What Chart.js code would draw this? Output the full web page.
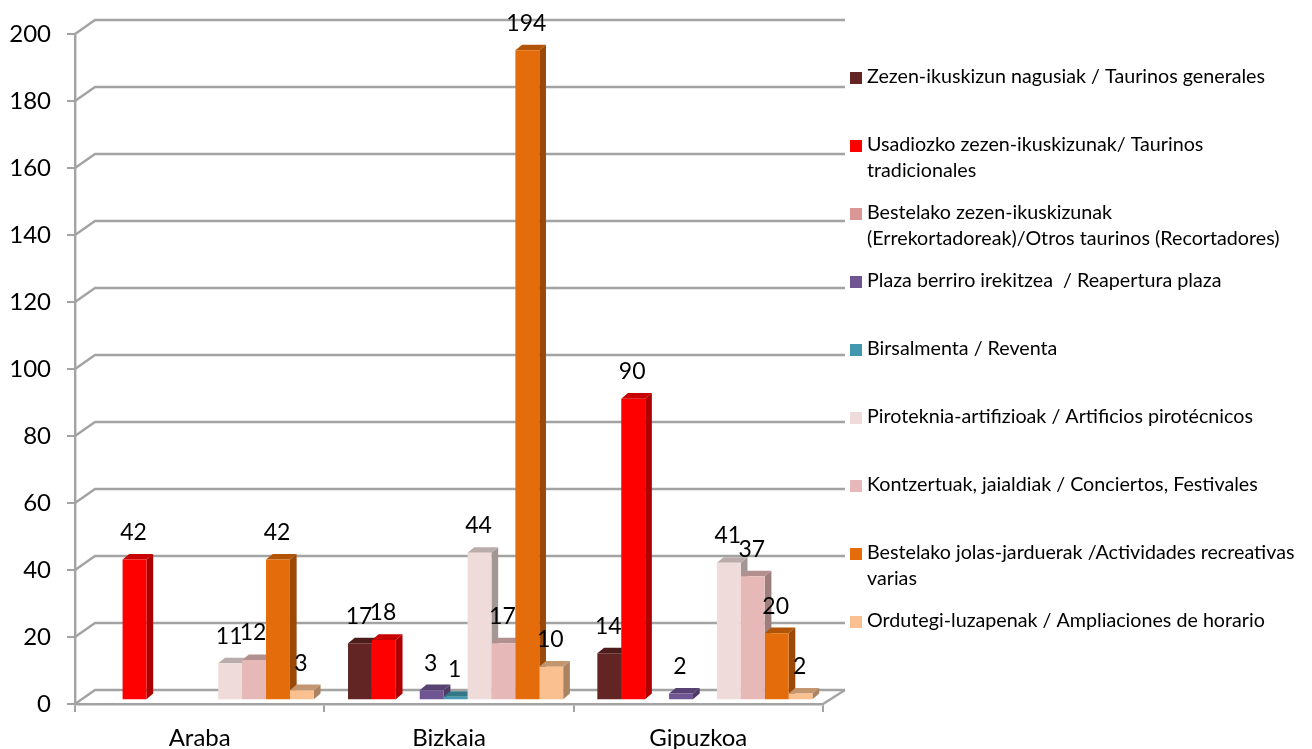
<!DOCTYPE html>
<html>
<head>
<meta charset="utf-8">
<title>Zezen-ikuskizunak</title>
<script src="https://cdn.jsdelivr.net/npm/chart.js@4"></script>
<style>
  html, body { margin: 0; padding: 0; background: #fff; }
  canvas { display: block; }
</style>
</head>
<body>
<canvas id="myChart" width="1312" height="749"></canvas>
<script>
// data
const categories = ['Araba', 'Bizkaia', 'Gipuzkoa'];
const seriesNames = [
    'Zezen-ikuskizun nagusiak / Taurinos generales',
    'Usadiozko zezen-ikuskizunak/ Taurinos\ntradicionales',
    'Bestelako zezen-ikuskizunak\n(Errekortadoreak)/Otros taurinos (Recortadores)',
    'Plaza berriro irekitzea  / Reapertura plaza',
    'Birsalmenta / Reventa',
    'Piroteknia-artifizioak / Artificios pirotécnicos',
    'Kontzertuak, jaialdiak / Conciertos, Festivales',
    'Bestelako jolas-jarduerak /Actividades recreativas\nvarias',
    'Ordutegi-luzapenak / Ampliaciones de horario',
];
const taurinosGenerales = [null, 17, 14];
const taurinosTradicionales = [42, 18, 90];
const otrosTaurinos = [null, null, null];
const reapertura = [null, 3, 2];
const reventa = [null, 1, null];
const pirotecnicos = [11, 44, 41];
const conciertos = [12, 17, 37];
const recreativas = [42, 194, 20];
const ampliaciones = [3, 10, 2];
const seriesValues = [taurinosGenerales, taurinosTradicionales, otrosTaurinos, reapertura, reventa, pirotecnicos, conciertos, recreativas, ampliaciones];
const seriesColors = ['#632523', '#ff0000', '#d99694', '#705593', '#4198af', '#efdcda', '#e6b9b8', '#e46c0a', '#fac090'];

// 3d look
const FONT = 'Lato';
const GRID = '#a3a3a3';
const wall = { dx: 20, dy: 14, extra: 2 };
const barShift = { x: 6.6, y: -3.8 };
const depth = { x: 6.7, y: 5.6 };
const legendBox = { x: 850, swatch: 12, textX: 867, firstY: 78, step: 68, line: 26 };

function shade(hex, k) {
    const n = parseInt(hex.slice(1), 16);
    return 'rgb(' + Math.round((n >> 16) * k) + ',' + Math.round(((n >> 8) & 255) * k) + ',' + Math.round((n & 255) * k) + ')';
}

function poly(ctx, pts, color) {
    ctx.fillStyle = color;
    ctx.beginPath();
    pts.forEach((p, i) => (i ? ctx.lineTo(p[0], p[1]) : ctx.moveTo(p[0], p[1])));
    ctx.closePath();
    ctx.fill();
}

const threeD = {
    id: 'threeD',
    beforeDatasetsDraw(chart) {
        const ctx = chart.ctx;
        const a = chart.chartArea;
        const y = chart.scales.y;

        // back wall and side wall lines
        ctx.save();
        ctx.strokeStyle = GRID;
        ctx.lineWidth = 2.4;
        y.ticks.forEach(t => {
            const py = y.getPixelForValue(t.value);
            ctx.beginPath();
            ctx.moveTo(a.left, py);
            ctx.lineTo(a.left + wall.dx, py - wall.dy);
            ctx.lineTo(a.right + wall.dx + wall.extra, py - wall.dy);
            ctx.stroke();
        });
        // floor edge on the right
        ctx.beginPath();
        ctx.moveTo(a.right, a.bottom);
        ctx.lineTo(a.right + wall.dx + wall.extra, a.bottom - wall.dy);
        ctx.stroke();
        ctx.restore();

        // side and top faces, left to right
        ctx.save();
        ctx.translate(barShift.x, barShift.y);
        seriesValues.forEach((vals, i) => {
            chart.getDatasetMeta(i).data.forEach((bar, j) => {
                if (vals[j] === null) return;
                const p = bar.getProps(['x', 'y', 'width', 'base'], true);
                const r = p.x + p.width / 2;
                const l = p.x - p.width / 2;
                poly(ctx, [[r, p.y], [r + depth.x, p.y - depth.y], [r + depth.x, p.base - depth.y], [r, p.base]], shade(seriesColors[i], 0.68));
                poly(ctx, [[l, p.y], [l + depth.x, p.y - depth.y], [r + depth.x, p.y - depth.y], [r, p.y]], shade(seriesColors[i], 0.78));
            });
        });
        ctx.restore();

        // front faces are drawn by chart.js, moved onto the floor
        ctx.save();
        ctx.translate(barShift.x, barShift.y);
    },
    afterDatasetsDraw(chart) {
        const ctx = chart.ctx;
        ctx.restore();

        // value labels
        ctx.save();
        ctx.font = '23px ' + FONT;
        ctx.fillStyle = '#000';
        ctx.textAlign = 'center';
        ctx.textBaseline = 'middle';
        seriesValues.forEach((vals, i) => {
            chart.getDatasetMeta(i).data.forEach((bar, j) => {
                if (vals[j] === null) return;
                const p = bar.getProps(['x', 'y'], true);
                ctx.fillText(String(vals[j]), p.x + barShift.x - 1, p.y + barShift.y - 27);
            });
        });

        // legend
        ctx.font = '19.7px ' + FONT;
        ctx.textAlign = 'left';
        seriesNames.forEach((name, i) => {
            const cy = legendBox.firstY + i * legendBox.step;
            ctx.fillStyle = seriesColors[i];
            ctx.fillRect(legendBox.x, cy - legendBox.swatch / 2, legendBox.swatch, legendBox.swatch);
            ctx.fillStyle = '#000';
            name.split('\n').forEach((txt, k) => {
                ctx.fillText(txt, legendBox.textX, cy - 1 + k * legendBox.line);
            });
        });
        ctx.restore();
    },
};

const myChart = new Chart(document.getElementById('myChart').getContext('2d'), {
    type: 'bar',
    data: {
        labels: categories,
        datasets: seriesNames.map((name, i) => ({
            label: name,
            data: seriesValues[i],
            backgroundColor: seriesColors[i],
            borderWidth: 0,
        })),
    },
    options: {
        responsive: false,
        animation: false,
        layout: { padding: { top: 34, right: 489, left: 0, bottom: 0 } },
        plugins: { legend: { display: false }, title: { display: false }, tooltip: { enabled: false } },
        datasets: { bar: { categoryPercentage: 0.863, barPercentage: 1 } },
        scales: {
            x: {
                afterFit: s => { s.height = 45; },
                border: { color: GRID, width: 2.4 },
                grid: { offset: true, drawOnChartArea: false, color: GRID, lineWidth: 2, tickLength: 8 },
                ticks: { color: '#000', font: { family: FONT, size: 24 }, padding: 12, maxRotation: 0 },
            },
            y: {
                min: 0,
                max: 200,
                afterFit: s => { s.width = 75; },
                border: { color: GRID, width: 2.4 },
                grid: { drawOnChartArea: false, color: GRID, lineWidth: 2, tickLength: 8 },
                ticks: { stepSize: 20, color: '#000', font: { family: FONT, size: 24 }, padding: 16 },
            },
        },
    },
    plugins: [threeD],
});
</script>
</body>
</html>
